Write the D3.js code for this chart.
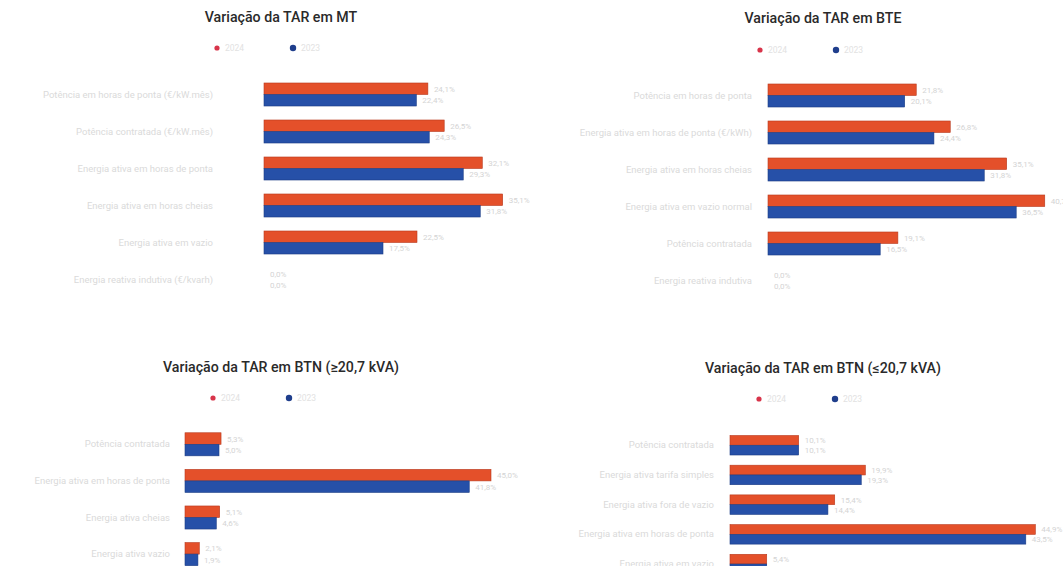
<!DOCTYPE html>
<html>
<head>
<meta charset="utf-8">
<script src="https://cdn.jsdelivr.net/npm/d3@7/dist/d3.min.js"></script>
<style>
  html, body { margin: 0; padding: 0; background: #fff; }
  svg { display: block; }
</style>
</head>
<body>
<svg id="chart" width="1063" height="566"></svg>
<script>
// Series shown in every panel
const seriesNames = ["2024", "2023"];
const seriesColors = ["#E4502A", "#2650A8"];
const seriesStroke = ["#B83A1E", "#1C3C84"];

// Variação da TAR em MT (%)
const mtCategories = [
  "Potência em horas de ponta (€/kW.mês)",
  "Potência contratada (€/kW.mês)",
  "Energia ativa em horas de ponta",
  "Energia ativa em horas cheias",
  "Energia ativa em vazio",
  "Energia reativa indutiva (€/kvarh)"
];
const mtSeries2024 = [24.1, 26.5, 32.1, 35.1, 22.5, 0.0];
const mtSeries2023 = [22.4, 24.3, 29.3, 31.8, 17.5, 0.0];

// Variação da TAR em BTE (%)
const bteCategories = [
  "Potência em horas de ponta",
  "Energia ativa em horas de ponta (€/kWh)",
  "Energia ativa em horas cheias",
  "Energia ativa em vazio normal",
  "Potência contratada",
  "Energia reativa indutiva"
];
const bteSeries2024 = [21.8, 26.8, 35.1, 40.7, 19.1, 0.0];
const bteSeries2023 = [20.1, 24.4, 31.8, 36.5, 16.5, 0.0];

// Variação da TAR em BTN (≥20,7 kVA) (%)
const btnHighCategories = [
  "Potência contratada",
  "Energia ativa em horas de ponta",
  "Energia ativa cheias",
  "Energia ativa vazio"
];
const btnHighSeries2024 = [5.3, 45.0, 5.1, 2.1];
const btnHighSeries2023 = [5.0, 41.8, 4.6, 1.9];

// Variação da TAR em BTN (≤20,7 kVA) (%)
const btnLowCategories = [
  "Potência contratada",
  "Energia ativa tarifa simples",
  "Energia ativa fora de vazio",
  "Energia ativa em horas de ponta",
  "Energia ativa em vazio"
];
const btnLowSeries2024 = [10.1, 19.9, 15.4, 44.9, 5.4];
const btnLowSeries2023 = [10.1, 19.3, 14.4, 43.5, 5.4];

const fmt = v => d3.format(".1f")(v).replace(".", ",") + "%";

const svg = d3.select("#chart");

// Panel layout
const panels = [
  { title: "Variação da TAR em MT", cx: 281, titleY: 22, legendY: 48, legendX: 217,
    cats: mtCategories, vals: [mtSeries2024, mtSeries2023],
    x0: 264, pxPerUnit: 6.8, top: 76, step: 37, pad: 0.378, labelRight: 213 },
  { title: "Variação da TAR em BTE", cx: 823, titleY: 23, legendY: 50, legendX: 760,
    cats: bteCategories, vals: [bteSeries2024, bteSeries2023],
    x0: 768, pxPerUnit: 6.8, top: 77, step: 37, pad: 0.378, labelRight: 752 },
  { title: "Variação da TAR em BTN (≥20,7 kVA)", cx: 281, titleY: 372, legendY: 398, legendX: 213,
    cats: btnHighCategories, vals: [btnHighSeries2024, btnHighSeries2023],
    x0: 185, pxPerUnit: 6.8, top: 426, step: 36.6, pad: 0.37, labelRight: 170 },
  { title: "Variação da TAR em BTN (≤20,7 kVA)", cx: 823, titleY: 373, legendY: 399, legendX: 759,
    cats: btnLowCategories, vals: [btnLowSeries2024, btnLowSeries2023],
    x0: 730, pxPerUnit: 6.8, top: 430.4, step: 29.7, pad: 0.343, labelRight: 714 }
];

panels.forEach(p => {
  const g = svg.append("g");

  // Title
  g.append("text")
    .attr("x", p.cx).attr("y", p.titleY)
    .attr("text-anchor", "middle")
    .attr("font-family", "Roboto, sans-serif")
    .attr("font-weight", 500)
    .attr("font-size", 14.2)
    .attr("fill", "#2a2a2a")
    .text(p.title);

  // Legend
  seriesNames.forEach((name, i) => {
    const lx = p.legendX + i * 76;
    g.append("circle")
      .attr("cx", lx).attr("cy", p.legendY)
      .attr("r", i === 0 ? 2.6 : 3.2)
      .attr("fill", i === 0 ? "#D8344A" : "#1F3E8C");
    g.append("text")
      .attr("x", lx + 8).attr("y", p.legendY + 3)
      .attr("font-family", "Roboto, sans-serif")
      .attr("font-size", 8.5)
      .attr("fill", "#e2e2e2")
      .text(name);
  });

  const maxV = d3.max(p.vals.flat());
  const x = d3.scaleLinear()
    .domain([0, maxV])
    .range([p.x0, p.x0 + maxV * p.pxPerUnit]);

  const y = d3.scaleBand()
    .domain(p.cats)
    .range([p.top, p.top + p.cats.length * p.step])
    .paddingInner(p.pad)
    .paddingOuter(p.pad / 2);

  const ySub = d3.scaleBand()
    .domain(d3.range(seriesNames.length))
    .range([0, y.bandwidth()]);

  // Category labels
  g.selectAll("text.cat")
    .data(p.cats)
    .join("text")
    .attr("class", "cat")
    .attr("x", p.labelRight)
    .attr("y", d => y(d) + y.bandwidth() / 2 + 3)
    .attr("text-anchor", "end")
    .attr("font-family", "Roboto, sans-serif")
    .attr("font-size", 9.5)
    .attr("fill", "#dadada")
    .text(d => d);

  // Bars and value labels
  seriesNames.forEach((name, si) => {
    const rows = p.cats.map((c, i) => ({ c, v: p.vals[si][i] }));
    g.selectAll(`rect.s${si}`)
      .data(rows.filter(d => d.v > 0))
      .join("rect")
      .attr("class", `s${si}`)
      .attr("x", x(0))
      .attr("y", d => y(d.c) + ySub(si))
      .attr("width", d => x(d.v) - x(0))
      .attr("height", ySub.bandwidth())
      .attr("fill", seriesColors[si])
      .attr("stroke", seriesStroke[si])
      .attr("stroke-width", 0.6);

    g.selectAll(`text.v${si}`)
      .data(rows)
      .join("text")
      .attr("class", `v${si}`)
      .attr("x", d => x(d.v) + 6)
      .attr("y", d => y(d.c) + ySub(si) + ySub.bandwidth() / 2 + 3)
      .attr("font-family", "Roboto, sans-serif")
      .attr("font-size", 8)
      .attr("fill", "#d4d4d4")
      .text(d => fmt(d.v));
  });
});
</script>
</body>
</html>
